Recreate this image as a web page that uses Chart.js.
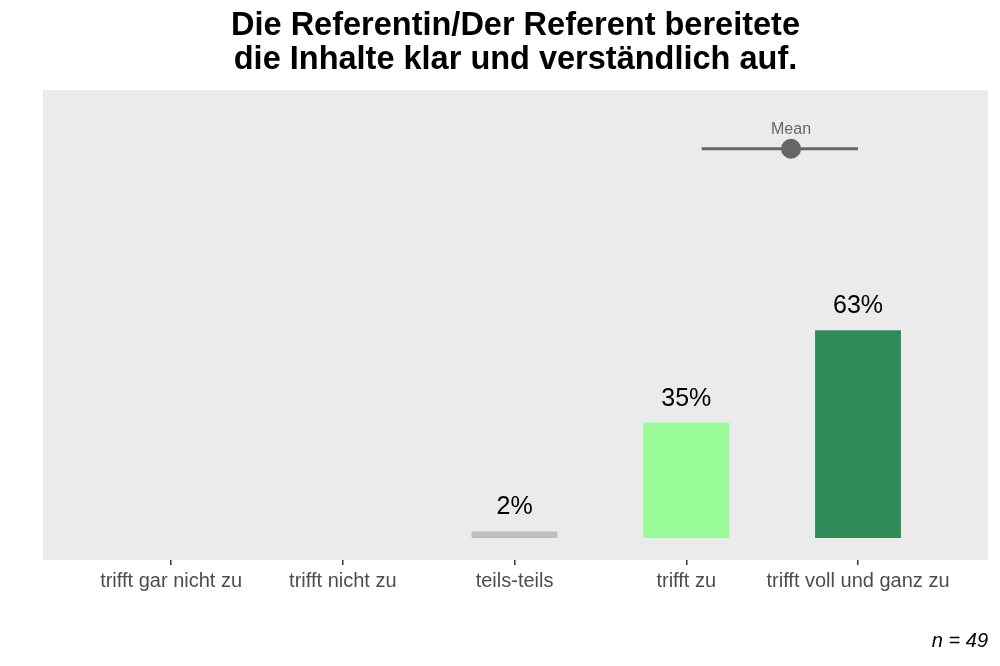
<!DOCTYPE html>
<html>
<head>
<meta charset="utf-8">
<script src="https://cdn.jsdelivr.net/npm/chart.js@4/dist/chart.umd.min.js"></script>
<style>
  html, body { margin: 0; padding: 0; background: #fff; }
  #wrap { width: 1000px; height: 666px; }
</style>
</head>
<body>
<div id="wrap"><canvas id="chart" width="1000" height="666"></canvas></div>
<script>
// Daten
const categories = ['trifft gar nicht zu', 'trifft nicht zu', 'teils-teils', 'trifft zu', 'trifft voll und ganz zu'];
const percents = [0, 0, 2, 35, 63];
const barColors = ['#d7301f', '#fc8d59', '#bebebe', '#98fb98', '#2e8b57'];
const meanValue = 4.61;
const sdValue = 0.52;
const sampleSize = 49;

const FONT = '"Liberation Sans", Arial, sans-serif';
const MEAN_Y = 118; // Höhe der Mittelwert-Markierung (in %-Einheiten der y-Achse)

// Balken beschriften + grauer Hintergrund
const panelPlugin = {
    id: 'panel',
    beforeDraw(chart) {
        const { ctx, chartArea: a } = chart;
        ctx.save();
        ctx.fillStyle = '#ebebeb';
        ctx.fillRect(a.left, a.top, a.right - a.left, a.bottom - a.top);
        ctx.restore();
    },
    afterDatasetsDraw(chart) {
        const ctx = chart.ctx;
        const bars = chart.getDatasetMeta(0).data;
        ctx.save();
        ctx.fillStyle = '#000';
        ctx.font = '25px ' + FONT;
        ctx.textAlign = 'center';
        ctx.textBaseline = 'alphabetic';
        bars.forEach((bar, i) => {
            if (percents[i] > 0) {
                ctx.fillText(percents[i] + '%', bar.x, bar.y - 17);
            }
        });
        // "Mean" Beschriftung
        const dot = chart.getDatasetMeta(2).data[0];
        ctx.fillStyle = '#666666';
        ctx.font = '16px ' + FONT;
        ctx.textBaseline = 'middle';
        ctx.fillText('Mean', dot.x, dot.y - 19);
        ctx.restore();
    }
};

const lo = Math.max(1, meanValue - sdValue);
const hi = Math.min(5, meanValue + sdValue);

new Chart(document.getElementById('chart'), {
    type: 'bar',
    data: {
        datasets: [
            {
                data: percents.map((p, i) => ({ x: i + 1, y: p })),
                backgroundColor: barColors,
                categoryPercentage: 1,
                barPercentage: 0.5,
                order: 2
            },
            {
                type: 'line',
                data: [{ x: lo, y: MEAN_Y }, { x: hi, y: MEAN_Y }],
                borderColor: '#666666',
                borderWidth: 3,
                pointRadius: 0,
                order: 1
            },
            {
                type: 'scatter',
                data: [{ x: meanValue, y: MEAN_Y }],
                backgroundColor: '#666666',
                borderWidth: 0,
                pointRadius: 10,
                order: 0
            }
        ]
    },
    options: {
        responsive: false,
        animation: false,
        events: [],
        layout: { padding: { left: 43, right: 12, top: 0, bottom: 0 } },
        plugins: {
            legend: { display: false },
            tooltip: { enabled: false },
            title: {
                display: true,
                text: ['Die Referentin/Der Referent bereitete', 'die Inhalte klar und verständlich auf.'],
                fullSize: false,
                color: '#000',
                font: { family: FONT, size: 32.5, weight: 'bold', lineHeight: 34 / 32.5 },
                padding: { top: 9, bottom: 13 }
            },
            subtitle: {
                display: true,
                position: 'bottom',
                align: 'end',
                fullSize: false,
                text: 'n = ' + sampleSize,
                color: '#000',
                font: { family: FONT, size: 20, style: 'italic', lineHeight: 1.2 },
                padding: { top: 0, bottom: 13 }
            }
        },
        scales: {
            x: {
                type: 'linear',
                offset: false,
                min: 0.254,
                max: 5.757,
                afterBuildTicks(scale) {
                    scale.ticks = categories.map((c, i) => ({ value: i + 1 }));
                },
                afterFit(scale) { scale.height = 69; },
                ticks: {
                    autoSkip: false,
                    maxRotation: 0,
                    color: '#4d4d4d',
                    font: { family: FONT, size: 20 },
                    padding: 4,
                    callback: (v) => categories[v - 1]
                },
                grid: {
                    offset: false,
                    drawOnChartArea: false,
                    drawTicks: true,
                    tickLength: 5,
                    color: '#333333',
                    lineWidth: 1.5
                },
                border: { display: false }
            },
            y: {
                display: false,
                min: -6.67,
                max: 135.8
            }
        }
    },
    plugins: [panelPlugin]
});
</script>
</body>
</html>
